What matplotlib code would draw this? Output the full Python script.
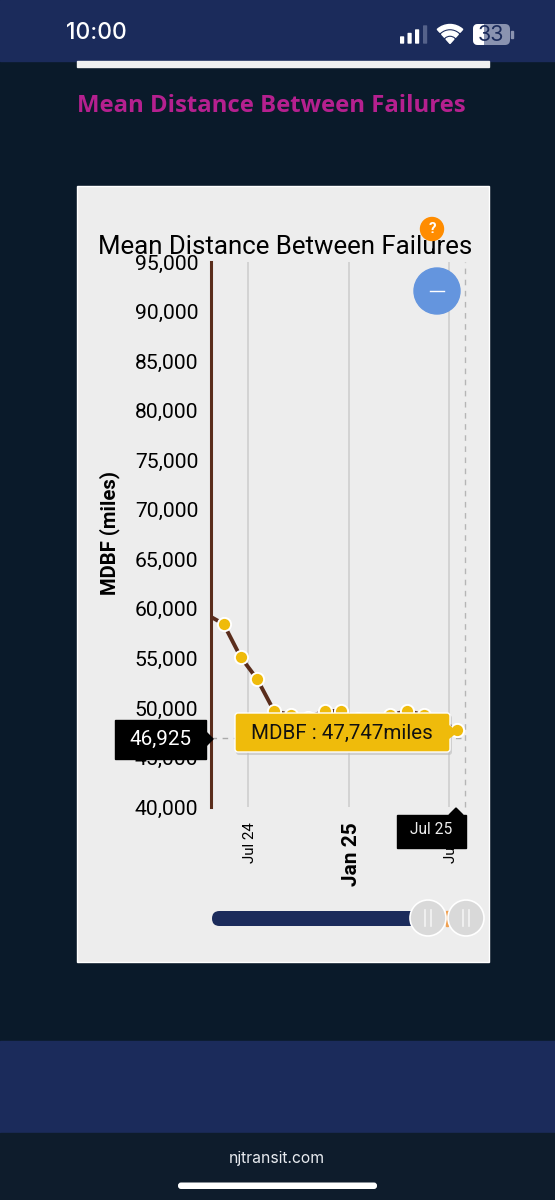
import matplotlib
matplotlib.use("Agg")
import matplotlib.dates as mdates
import matplotlib.pyplot as plt
import pandas as pd
from matplotlib.patches import Circle, FancyBboxPatch, Polygon, Rectangle, Wedge
from matplotlib.transforms import ScaledTranslation

# chart values (the ones under the tooltip are guesses)
dates = ["2024-04-17", "2024-05-17", "2024-06-17", "2024-07-17", "2024-08-17",
         "2024-09-17", "2024-10-17", "2024-11-17", "2024-12-17", "2025-01-17",
         "2025-02-17", "2025-03-17", "2025-04-17", "2025-05-17", "2025-06-17",
         "2025-07-17"]
mdbf = [59400, 58470, 55140, 52920, 49690, 49280, 49000, 49690, 49690, 48900,
        48800, 49280, 49690, 49280, 48700, 47747]
y_ticks = list(range(40000, 95001, 5000))
x_ticks = ["2024-07-01", "2025-01-01", "2025-07-01"]
x_labels = ["Jul 24", "Jan 25", "Jul 25"]
cursor_value = 46925
cursor_date = "2025-07-31"

NAVY = "#1b2b5b"
DARK = "#0a1a2a"
CARD = "#ededed"
BROWN = "#5a2d1c"
YELLOW = "#efbb0b"
W, H = 555, 1200

fig = plt.figure(figsize=(W / 100, H / 100), dpi=100, facecolor=DARK)
plt.rcParams["font.family"] = ["Roboto", "DejaVu Sans"]

# page behind the chart, drawn in screen pixels
bg = fig.add_axes([0, 0, 1, 1], zorder=0)
bg.set_xlim(0, W); bg.set_ylim(H, 0); bg.axis("off")
bg.add_patch(Rectangle((0, 0), W, 61, color=NAVY))
bg.add_patch(Rectangle((0, 1041), W, 92, color=NAVY))
bg.add_patch(Rectangle((0, 1133), W, 67, color="#0e1c2c"))
bg.add_patch(Rectangle((77, 61), 412, 6, color="#f0f0f0"))
bg.add_patch(Rectangle((77, 186), 412, 776, facecolor=CARD, edgecolor="#ffffff", lw=1))

# status bar
bg.text(66, 33, "10:00", color="white", fontsize=16.5, family="Inter",
        va="center", ha="left", fontweight="medium")
for x0, top, col in [(400, 37, "white"), (407.5, 33.5, "white"),
                     (415, 30, "white"), (423, 26, "#55628a")]:
    bg.add_patch(FancyBboxPatch((x0 + 0.7, top), 2.8, 43 - top, boxstyle="round,pad=0.7",
                                facecolor=col, edgecolor="none"))
bg.add_patch(Wedge((450, 43.5), 19, 228, 312, width=4, color="white"))
bg.add_patch(Wedge((450, 43.5), 12.5, 228, 312, width=4, color="white"))
bg.add_patch(Wedge((450, 43.5), 6, 228, 312, color="white"))
bg.add_patch(FancyBboxPatch((475, 26), 33, 17, boxstyle="round,pad=2,rounding_size=5",
                            facecolor="#8a93b0", edgecolor="none"))
left_part = FancyBboxPatch((475, 26), 33, 17, boxstyle="round,pad=2,rounding_size=5",
                           facecolor="white", edgecolor="none")
bg.add_patch(left_part)
left_part.set_clip_path(Rectangle((473, 24), 11, 21, transform=bg.transData))
bg.add_patch(Rectangle((511, 31), 1.5, 7, color="#8a93b0"))
bg.text(491, 35, "33", color=NAVY, fontsize=15.5, family="Inter", ha="center", va="center")

# heading and footer
bg.text(77, 106, "Mean Distance Between Failures", color="#b5208f", fontsize=17.2,
        family="Open Sans", fontweight="bold", ha="left", va="center")
bg.text(277, 1158, "njtransit.com", color="#e8ebf0", fontsize=11.3, family="Inter",
        ha="center", va="center")
bg.add_patch(FancyBboxPatch((180, 1184.5), 195, 2.5, boxstyle="round,pad=2,rounding_size=3",
                            facecolor="white", edgecolor="none"))

# the chart
x = pd.to_datetime(dates)
ax = fig.add_axes([211 / W, 1 - 807 / H, (465 - 211) / W, (807 - 262) / H], zorder=1)
ax.patch.set_alpha(0)
# first point sits left of the window, only its line segment shows
ax.plot(x, mdbf, color=BROWN, lw=2.8, zorder=3, marker="o", ms=9.5, mfc=YELLOW,
        mec="white", mew=1.4, solid_capstyle="butt", markevery=list(range(1, len(x))))
ax.set_xlim(pd.Timestamp("2024-04-24"), pd.Timestamp(cursor_date))
ax.set_ylim(40000, 95000)
ax.set_yticks(y_ticks)
ax.set_yticklabels([f"{v:,}" for v in y_ticks], fontsize=15.2)
ax.set_xticks(mdates.date2num(pd.to_datetime(x_ticks)))
ax.set_xticklabels(x_labels, rotation=90, fontsize=10.9)
ax.get_xticklabels()[1].set_fontweight("bold")
ax.get_xticklabels()[1].set_fontsize(15)
ax.tick_params(axis="both", length=0)
ax.tick_params(axis="y", pad=9)
ax.tick_params(axis="x", pad=11)
# tick_params resets label transforms, so nudge after it
shift = ScaledTranslation(2 / 100, 0, fig.dpi_scale_trans)
for lab in ax.get_xticklabels():
    lab.set_transform(lab.get_transform() + shift)
ax.grid(axis="x", color="#cccccc", lw=1.1, zorder=1)
ax.grid(axis="y", visible=False)
for s in ("top", "right", "bottom"):
    ax.spines[s].set_visible(False)
ax.spines["left"].set_color(BROWN)
ax.spines["left"].set_linewidth(2.2)
ax.set_ylabel("MDBF (miles)", fontsize=14.6, fontweight="bold")
ax.yaxis.set_label_coords(-0.36, 0.502)
ax.set_title("Mean Distance Between Failures", fontsize=18.6, x=0.291, pad=5.5)
ax.axhline(cursor_value, color="#aaaaaa", lw=1, ls=(0, (4, 4)), zorder=2)
ax.axvline(pd.Timestamp(cursor_date), color="#b5b5b5", lw=1, ls=(0, (4, 4)),
           zorder=2, clip_on=False)

# widgets on top of the chart, again in screen pixels
ui = fig.add_axes([0, 0, 1, 1], zorder=2)
ui.set_xlim(0, W); ui.set_ylim(H, 0); ui.axis("off"); ui.patch.set_alpha(0)

ui.add_patch(Circle((432, 229), 11.5, color="#ff8c00"))
ui.text(432, 229, "?", color="white", fontsize=11, fontweight="bold", ha="center", va="center")
ui.add_patch(Circle((437, 291), 23, color="#6495de"))
ui.plot([430, 444], [291, 291], color="white", lw=1)

# value tooltip
ui.add_patch(FancyBboxPatch((237, 716), 214, 38, boxstyle="round,pad=1,rounding_size=3",
                            facecolor="#bbbbbb", edgecolor="none", alpha=0.6))
ui.add_patch(FancyBboxPatch((236, 714), 213, 37, boxstyle="round,pad=1,rounding_size=3",
                            facecolor=YELLOW, edgecolor="white", lw=1))
ui.add_patch(Polygon([(449, 725), (458, 732), (449, 739)], facecolor=YELLOW,
                     edgecolor="none"))
ui.text(341.5, 733, "MDBF : 47,747miles", fontsize=14.8, color="#111111",
        ha="center", va="center")

# axis pointer labels
ui.add_patch(Rectangle((115, 720), 91, 39, color="black"))
ui.add_patch(Polygon([(206, 732), (213, 739), (206, 746)], color="black"))
ui.text(160, 739, "46,925", color="white", fontsize=14.9, ha="center", va="center")
ui.add_patch(Rectangle((397, 815), 69, 33, color="black"))
ui.add_patch(Polygon([(449, 815), (456, 808), (463, 815)], color="black"))
ui.text(431, 830, "Jul 25", color="#eeeeee", fontsize=11.2, ha="center", va="center")

# range slider
ui.add_patch(FancyBboxPatch((212, 911), 207, 15, boxstyle="round,pad=0,rounding_size=7.5",
                            facecolor=NAVY, edgecolor="none", mutation_aspect=1))
ui.add_patch(Rectangle((445.5, 911), 2.5, 15, color="#f0a050"))
for cx in (428, 466):
    ui.add_patch(Circle((cx, 918), 18, facecolor="#d9d9d9", edgecolor="white", lw=1.2))
    ui.plot([cx - 3, cx - 3], [910, 926], color="#f4f4f4", lw=1.2)
    ui.plot([cx + 3, cx + 3], [910, 926], color="#f4f4f4", lw=1.2)

fig.savefig("out.png", dpi=100, facecolor=fig.get_facecolor())
